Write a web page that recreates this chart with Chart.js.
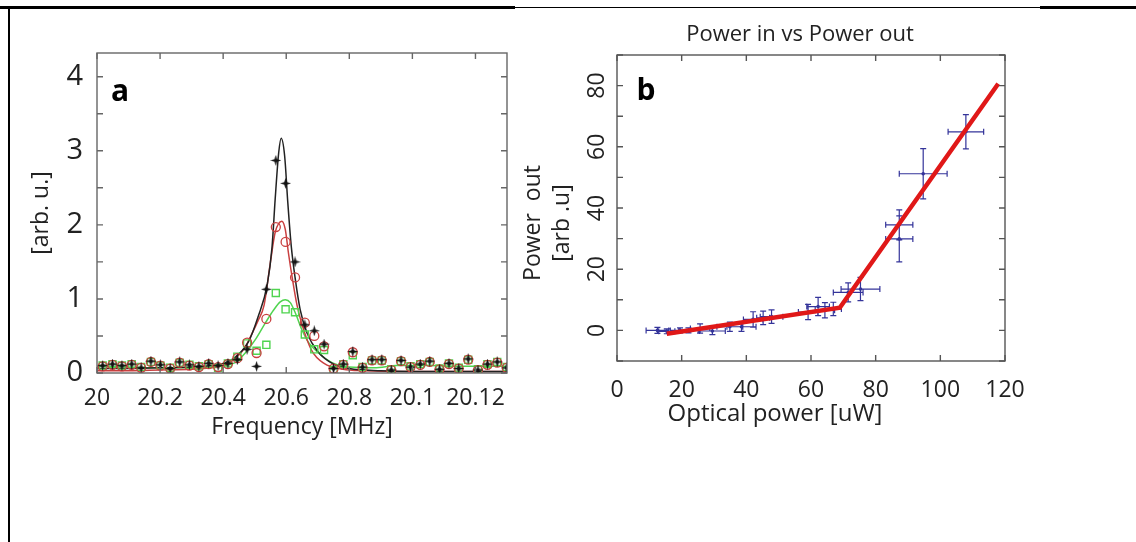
<!DOCTYPE html>
<html>
<head>
<meta charset="utf-8">
<script src="https://cdn.jsdelivr.net/npm/chart.js@4/dist/chart.umd.min.js"></script>
<style>
  body { margin: 0; background: #fff; width: 1136px; height: 542px; position: relative; overflow: hidden; }
  .rule { position: absolute; background: #000; }
  canvas { position: absolute; top: 0; }
</style>
</head>
<body>
<div class="rule" style="left:0;top:6px;width:515px;height:3px"></div>
<div class="rule" style="left:515px;top:7px;width:525px;height:1px"></div>
<div class="rule" style="left:1040px;top:6px;width:96px;height:3px"></div>
<div class="rule" style="left:8px;top:6px;width:2px;height:536px"></div>
<canvas id="chartA" width="520" height="450" style="left:0"></canvas>
<canvas id="chartB" width="540" height="450" style="left:520px"></canvas>
<script>
// ---- panel a : resonance spectra ----
const freqMHz = [20.018, 20.049, 20.079, 20.110, 20.140, 20.171, 20.201, 20.232, 20.262, 20.293,
  20.323, 20.354, 20.384, 20.415, 20.445, 20.476, 20.506, 20.537, 20.567, 20.598,
  20.628, 20.659, 20.689, 20.720, 20.750, 20.781, 20.811, 20.842, 20.872, 20.903,
  20.933, 20.964, 20.994, 21.025, 21.055, 21.086, 21.116, 21.147, 21.177, 21.208,
  21.238, 21.269, 21.299];
const starAmp = [0.10, 0.12, 0.10, 0.12, 0.07, 0.16, 0.11, 0.06, 0.15, 0.11,
  0.09, 0.13, 0.10, 0.13, 0.18, 0.32, 0.09, 1.13, 2.87, 2.56,
  1.50, 0.65, 0.57, 0.39, 0.06, 0.12, 0.29, 0.08, 0.18, 0.18,
  0.04, 0.17, 0.08, 0.12, 0.16, 0.05, 0.13, 0.06, 0.19, 0.04,
  0.12, 0.15, 0.07];
const circleAmp = [0.09, 0.11, 0.09, 0.11, 0.07, 0.15, 0.10, 0.06, 0.14, 0.10,
  0.08, 0.12, 0.08, 0.12, 0.20, 0.41, 0.27, 0.73, 1.97, 1.77,
  1.29, 0.68, 0.50, 0.36, 0.06, 0.11, 0.28, 0.07, 0.17, 0.17,
  0.04, 0.16, 0.08, 0.11, 0.15, 0.05, 0.12, 0.06, 0.18, 0.04,
  0.11, 0.14, 0.07];
const squareAmp = [0.10, 0.12, 0.10, 0.12, 0.08, 0.15, 0.10, 0.07, 0.14, 0.11,
  0.09, 0.12, 0.07, 0.13, 0.22, 0.40, 0.30, 0.38, 1.08, 0.86,
  0.82, 0.52, 0.32, 0.31, 0.04, 0.12, 0.24, 0.08, 0.17, 0.17,
  0.05, 0.16, 0.09, 0.12, 0.15, 0.06, 0.13, 0.07, 0.18, 0.05,
  0.12, 0.15, 0.08];

const blackFitX = [20.00, 20.10, 20.20, 20.30, 20.36, 20.40, 20.44, 20.48, 20.51, 20.54, 20.555, 20.565, 20.576,
  20.584, 20.595, 20.605, 20.616, 20.629, 20.644, 20.666, 20.70, 20.75, 20.80, 20.90, 21.00, 21.10, 21.30];
const blackFitY = [0.06, 0.06, 0.07, 0.08, 0.10, 0.13, 0.22, 0.42, 0.75, 1.20, 1.70, 2.35, 2.97,
  3.17, 2.93, 2.30, 1.71, 1.26, 0.86, 0.54, 0.29, 0.12, 0.06, 0.03, 0.02, 0.02, 0.02];
const redFitX = [20.00, 20.10, 20.20, 20.30, 20.36, 20.40, 20.44, 20.47, 20.49, 20.51, 20.53, 20.55, 20.565,
  20.586, 20.597, 20.607, 20.62, 20.634, 20.649, 20.68, 20.72, 20.78, 20.85, 20.95, 21.10, 21.30];
const redFitY = [0.03, 0.03, 0.04, 0.05, 0.07, 0.10, 0.20, 0.35, 0.52, 0.70, 0.92, 1.50, 1.90,
  2.05, 1.94, 1.62, 1.26, 0.92, 0.67, 0.31, 0.13, 0.05, 0.03, 0.02, 0.02, 0.02];
const greenFitX = [20.00, 20.10, 20.20, 20.30, 20.36, 20.40, 20.438, 20.47, 20.502, 20.533, 20.56, 20.581,
  20.597, 20.613, 20.629, 20.65, 20.671, 20.703, 20.745, 20.80, 20.88, 20.95, 21.05, 21.15, 21.30];
const greenFitY = [0.09, 0.08, 0.07, 0.07, 0.08, 0.10, 0.14, 0.27, 0.45, 0.67, 0.85, 0.96,
  0.99, 0.95, 0.81, 0.58, 0.41, 0.27, 0.14, 0.08, 0.07, 0.10, 0.10, 0.09, 0.09];

const freqTicks = [20, 20.2, 20.4, 20.6, 20.8, 21.0, 21.2];
const freqTickLabels = ['20', '20.2', '20.4', '20.6', '20.8', '20.1', '20.12'];
const ampTicks = [0, 0.5, 1, 1.5, 2, 2.5, 3, 3.5, 4];

// ---- panel b : power in vs power out ----
const optPower = [12.5, 15.4, 19.5, 22.1, 25.7, 29.5, 34.9, 38.5, 42.1, 45.2, 47.8,
  59.1, 62.2, 64.3, 66.9, 71.5, 75.3, 87.3, 87.3, 94.7, 107.9];
const powerOut = [0, -0.3, 0, 0, 0.6, -0.2, 1.2, 1.2, 3.6, 4.1, 4.5,
  6.0, 7.8, 6.6, 7.0, 12.4, 13.5, 34.5, 29.9, 51.2, 64.9];
const powerErrX = [3.5, 2.5, 3.0, 3.0, 3.0, 4.0, 4.0, 4.5, 3.0, 2.0, 3.5,
  3.0, 3.5, 3.0, 2.5, 4.6, 6.0, 4.2, 4.2, 7.4, 5.5];
const powerErrY = [1.0, 0.8, 0.8, 0.8, 1.5, 1.2, 1.5, 1.5, 2.5, 2.2, 2.2,
  2.5, 3.0, 2.5, 2.2, 3.1, 3.8, 4.9, 7.5, 8.2, 5.6];
const fitPowerX = [15.4, 68.9, 117.9];
const fitPowerY = [-1.1, 7.4, 80.6];

const powerTicksX = [0, 20, 40, 60, 80, 100, 120];
const powerTicksY = [-10, 0, 10, 20, 30, 40, 50, 60, 70, 80, 90];
const powerLabelsY = [0, 20, 40, 60, 80];

const FONT = "'Open Sans', sans-serif";
const TEXT = '#222';
const RED = '#c94040';
const GREEN = '#4fd44f';
const BLUE = '#34349a';

const pts = (xs, ys) => xs.map((x, i) => ({ x: x, y: ys[i] }));
const fixTicks = vals => scale => { scale.ticks = vals.map(v => ({ value: v })); };

// four pointed star marker
function starGlyph(size, color) {
  const c = document.createElement('canvas');
  c.width = c.height = size;
  const g = c.getContext('2d');
  const m = size / 2, q = size * 0.12;
  g.fillStyle = color;
  g.beginPath();
  g.moveTo(m, 0); g.lineTo(m + q, m - q); g.lineTo(size, m); g.lineTo(m + q, m + q);
  g.lineTo(m, size); g.lineTo(m - q, m + q); g.lineTo(0, m); g.lineTo(m - q, m - q);
  g.closePath();
  g.fill();
  return c;
}

// box round the plot with inward tick marks
const frame = {
  id: 'frame',
  afterDatasetsDraw(chart, args, opts) {
    const { ctx, chartArea: a, scales: { x, y } } = chart;
    const L = opts.len;
    ctx.save();
    ctx.strokeStyle = opts.color;
    ctx.lineWidth = 1.4;
    ctx.strokeRect(a.left, a.top, a.right - a.left, a.bottom - a.top);
    ctx.beginPath();
    x.ticks.forEach(t => {
      const px = x.getPixelForValue(t.value);
      ctx.moveTo(px, a.bottom); ctx.lineTo(px, a.bottom - L);
      ctx.moveTo(px, a.top); ctx.lineTo(px, a.top + L);
    });
    y.ticks.forEach(t => {
      const py = y.getPixelForValue(t.value);
      ctx.moveTo(a.left, py); ctx.lineTo(a.left + L, py);
      ctx.moveTo(a.right, py); ctx.lineTo(a.right - L, py);
    });
    ctx.stroke();
    ctx.restore();
  }
};

// panel letters and other free captions
const captions = {
  id: 'captions',
  afterDraw(chart, args, opts) {
    const { ctx, chartArea: a } = chart;
    ctx.save();
    opts.items.forEach(it => {
      ctx.save();
      ctx.font = it.font;
      ctx.fillStyle = it.color || TEXT;
      ctx.textAlign = it.align || 'left';
      ctx.textBaseline = 'middle';
      ctx.translate(a.left + it.dx, a.top + it.dy);
      if (it.rotate) ctx.rotate(it.rotate);
      ctx.fillText(it.text, 0, 0);
      ctx.restore();
    });
    ctx.restore();
  }
};

// error bars for panel b
const errorBars = {
  id: 'errorBars',
  beforeDatasetsDraw(chart) {
    const { ctx, scales: { x, y } } = chart;
    ctx.save();
    ctx.strokeStyle = BLUE;
    ctx.lineWidth = 1.2;
    ctx.beginPath();
    optPower.forEach((p, i) => {
      const cx = x.getPixelForValue(p), cy = y.getPixelForValue(powerOut[i]);
      const x0 = x.getPixelForValue(p - powerErrX[i]), x1 = x.getPixelForValue(p + powerErrX[i]);
      const y0 = y.getPixelForValue(powerOut[i] - powerErrY[i]), y1 = y.getPixelForValue(powerOut[i] + powerErrY[i]);
      const c = 3;
      ctx.moveTo(x0, cy); ctx.lineTo(x1, cy);
      ctx.moveTo(x0, cy - c); ctx.lineTo(x0, cy + c);
      ctx.moveTo(x1, cy - c); ctx.lineTo(x1, cy + c);
      ctx.moveTo(cx, y0); ctx.lineTo(cx, y1);
      ctx.moveTo(cx - c, y0); ctx.lineTo(cx + c, y0);
      ctx.moveTo(cx - c, y1); ctx.lineTo(cx + c, y1);
    });
    ctx.stroke();
    ctx.restore();
  }
};

// vertical tick labels on the y axis of panel b
const sideLabels = {
  id: 'sideLabels',
  afterDraw(chart, args, opts) {
    const { ctx, chartArea: a, scales: { y } } = chart;
    ctx.save();
    ctx.font = opts.font;
    ctx.fillStyle = TEXT;
    ctx.textAlign = 'center';
    ctx.textBaseline = 'middle';
    opts.values.forEach(v => {
      ctx.save();
      ctx.translate(a.left - opts.gap, y.getPixelForValue(v));
      ctx.rotate(-Math.PI / 2);
      ctx.fillText(String(v), 0, 0);
      ctx.restore();
    });
    ctx.restore();
  }
};

const starImg = starGlyph(11, '#111');

new Chart(document.getElementById('chartA'), {
  type: 'scatter',
  data: {
    datasets: [
      { data: pts(freqMHz, starAmp), pointStyle: starImg, pointRadius: 5 },
      { data: pts(freqMHz, circleAmp), pointStyle: 'circle', pointRadius: 4.5, borderColor: RED, backgroundColor: 'rgba(0,0,0,0)', borderWidth: 1.3 },
      { data: pts(freqMHz, squareAmp), pointStyle: 'rect', pointRadius: 5, borderColor: GREEN, backgroundColor: 'rgba(0,0,0,0)', borderWidth: 1.4 },
      { data: pts(blackFitX, blackFitY), showLine: true, pointRadius: 0, borderColor: '#222', borderWidth: 1.5, cubicInterpolationMode: 'monotone' },
      { data: pts(redFitX, redFitY), showLine: true, pointRadius: 0, borderColor: RED, borderWidth: 1.5, cubicInterpolationMode: 'monotone' },
      { data: pts(greenFitX, greenFitY), showLine: true, pointRadius: 0, borderColor: GREEN, borderWidth: 1.5, cubicInterpolationMode: 'monotone' }
    ]
  },
  options: {
    responsive: false,
    animation: false,
    layout: { padding: { left: 0, top: 53, right: 13, bottom: 0 } },
    plugins: {
      legend: { display: false },
      tooltip: { enabled: false },
      frame: { color: '#666', len: 6 },
      captions: { items: [{ text: 'a', font: "bold 30px " + FONT, dx: 23, dy: 39, align: 'center', color: '#000' }] }
    },
    scales: {
      x: {
        type: 'linear', min: 20, max: 21.3,
        afterBuildTicks: fixTicks(freqTicks),
        afterFit: s => { s.height = 77; },
        grid: { display: false }, border: { display: false },
        ticks: { callback: (v, i) => freqTickLabels[i], autoSkip: false, maxRotation: 0, padding: 4, color: TEXT, font: { family: FONT, size: 23 } },
        title: { display: true, text: 'Frequency [MHz]', color: TEXT, font: { family: FONT, size: 23 }, padding: { top: 0, bottom: 9 } }
      },
      y: {
        min: 0, max: 4.32,
        afterBuildTicks: fixTicks(ampTicks),
        afterFit: s => { s.width = 97; },
        grid: { display: false }, border: { display: false },
        ticks: { callback: v => Number.isInteger(v) ? String(v) : '', padding: 6, color: TEXT, font: { family: FONT, size: 29 } },
        title: { display: true, text: '[arb. u.]', color: TEXT, font: { family: FONT, size: 23 }, padding: { top: 28, bottom: 0 } }
      }
    }
  },
  plugins: [frame, captions]
});

new Chart(document.getElementById('chartB'), {
  type: 'scatter',
  data: {
    datasets: [
      { data: pts(fitPowerX, fitPowerY), showLine: true, pointRadius: 0, borderColor: '#e01818', borderWidth: 4.5 },
      { data: pts(optPower, powerOut), pointRadius: 1.8, pointStyle: 'circle', backgroundColor: BLUE, borderColor: BLUE, borderWidth: 0 }
    ]
  },
  options: {
    responsive: false,
    animation: false,
    layout: { padding: { left: 0, top: 55, right: 55, bottom: 0 } },
    plugins: {
      legend: { display: false },
      tooltip: { enabled: false },
      frame: { color: '#555', len: 6 },
      sideLabels: { values: powerLabelsY, gap: 20, font: "23px " + FONT },
      captions: { items: [
        { text: 'Power in vs Power out', font: "22px " + FONT, dx: 183, dy: -20, align: 'center' },
        { text: 'b', font: "bold 30px " + FONT, dx: 29, dy: 36, align: 'center', color: '#000' },
        { text: 'Optical power [uW]', font: "24px " + FONT, dx: 158, dy: 359, align: 'center' },
        { text: 'Power  out', font: "23px " + FONT, dx: -84, dy: 168, align: 'center', rotate: -Math.PI / 2 },
        { text: '[arb .u]', font: "23px " + FONT, dx: -55, dy: 168, align: 'center', rotate: -Math.PI / 2 }
      ] }
    },
    scales: {
      x: {
        type: 'linear', min: 0, max: 120,
        afterBuildTicks: fixTicks(powerTicksX),
        afterFit: s => { s.height = 89; },
        grid: { display: false }, border: { display: false },
        ticks: { autoSkip: false, maxRotation: 0, padding: 8, color: TEXT, font: { family: FONT, size: 23 } }
      },
      y: {
        min: -10, max: 90,
        afterBuildTicks: fixTicks(powerTicksY),
        afterFit: s => { s.width = 97; },
        grid: { display: false }, border: { display: false },
        ticks: { display: false }
      }
    }
  },
  plugins: [frame, errorBars, sideLabels, captions]
});
</script>
</body>
</html>
